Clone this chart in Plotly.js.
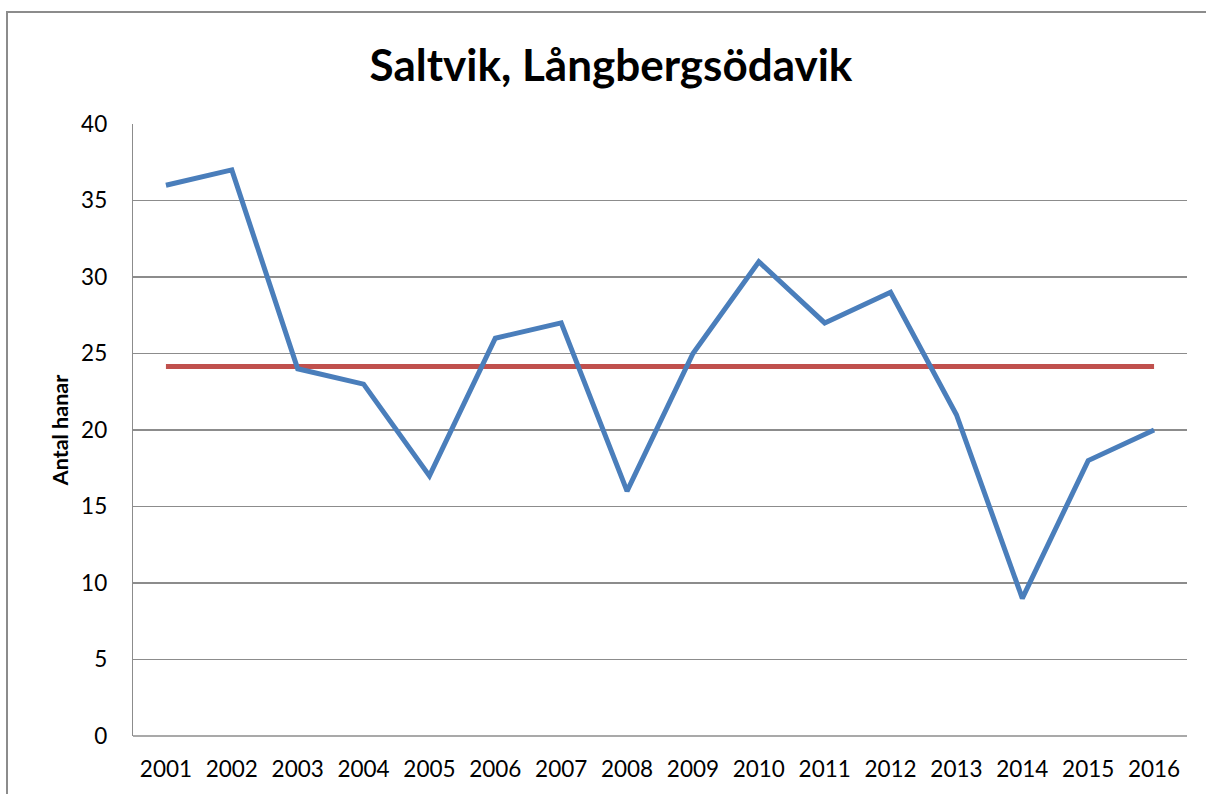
<!DOCTYPE html>
<html><head><meta charset="utf-8">
<script src="https://cdn.plot.ly/plotly-3.0.1.min.js"></script>
<style>html,body{margin:0;padding:0;background:#fff;}#chart{width:1206px;height:794px;}</style>
</head><body><div id="chart"></div>
<script>
const years = ['2001','2002','2003','2004','2005','2006','2007','2008','2009','2010','2011','2012','2013','2014','2015','2016'];
const antalHanar = [36,37,24,23,17,26,27,16,25,31,27,29,21,9,18,20];
const medel = [24.15,24.15,24.15,24.15,24.15,24.15,24.15,24.15,24.15,24.15,24.15,24.15,24.15,24.15,24.15,24.15];
const yTicks = [0,5,10,15,20,25,30,35,40];

const font = 'Lato, Calibri, "Open Sans", sans-serif';
const data = [
  {x: years, y: medel, type: 'scatter', mode: 'lines', line: {color: '#C0504D', width: 5}, hoverinfo: 'y'},
  {x: years, y: antalHanar, type: 'scatter', mode: 'lines', line: {color: '#4A7EBB', width: 5}, hoverinfo: 'x+y'}
];
const layout = {
  width: 1206, height: 794,
  margin: {l: 133, r: 19, t: 124, b: 58},
  paper_bgcolor: '#fff', plot_bgcolor: '#fff',
  showlegend: false,
  font: {family: font, color: '#000'},
  title: {text: '<b>Saltvik, Långbergsödavik</b>', font: {size: 44, family: font, color: '#000'}, x: 0.4535, xref: 'paper', xanchor: 'center', y: 0.918, yref: 'container', yanchor: 'middle'},
  xaxis: {type: 'category', range: [-0.5, 15.5], showgrid: false, zeroline: false, showline: false, ticks: '', tickfont: {size: 22.5, family: font}, ticklabelstandoff: 17, fixedrange: true},
  yaxis: {range: [0, 40], tickvals: yTicks, ticktext: yTicks.map(String), showgrid: true, gridcolor: '#8C8C8C', gridwidth: 1.3, zeroline: false, showline: true, linecolor: '#8C8C8C', linewidth: 1.3, ticks: '', tickfont: {size: 22.5, family: font}, ticklabelstandoff: 20, fixedrange: true,
    title: {text: '<b>Antal hanar</b>', font: {size: 21.5, family: font}, standoff: 6}},
  shapes: [
    {type: 'line', xref: 'paper', yref: 'paper', x0: 0, x1: 1, y0: 0, y1: 0, line: {color: '#8C8C8C', width: 1.3}},
    {type: 'rect', xref: 'paper', yref: 'paper', x0: (7-133)/1054, x1: 1.1, y0: -0.2, y1: (736-12)/612, line: {color: '#8C8C8C', width: 2}, fillcolor: 'rgba(0,0,0,0)', layer: 'below'}
  ]
};
Plotly.newPlot('chart', data, layout, {displayModeBar: false, staticPlot: true});
</script>
</body></html>
